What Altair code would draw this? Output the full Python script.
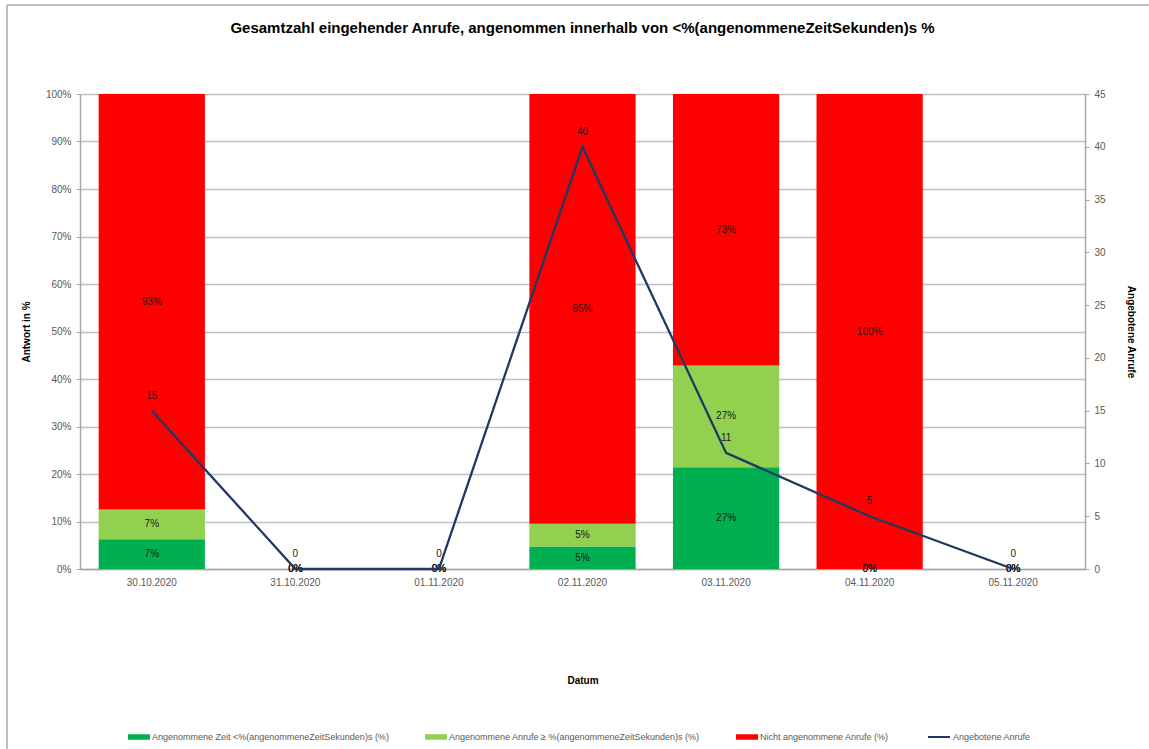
import altair as alt
import pandas as pd

# ---- data ----
dates = ["30.10.2020", "31.10.2020", "01.11.2020", "02.11.2020",
         "03.11.2020", "04.11.2020", "05.11.2020"]
series_names = [
    "Angenommene Zeit <%(angenommeneZeitSekunden)s (%)",
    "Angenommene Anrufe \u2265 %(angenommeneZeitSekunden)s (%)",
    "Nicht angenommene Anrufe (%)",
]
accepted_in_time = [6.67, 0, 0, 5, 27.27, 0, 0]
accepted_late = [6.67, 0, 0, 5, 27.27, 0, 0]
not_accepted = [93.33, 0, 0, 95, 72.73, 100, 0]
offered_calls = [15, 0, 0, 40, 11, 5, 0]
line_name = "Angebotene Anrufe"

bar_colors = ["#00B050", "#92D050", "#FF0000"]
line_color = "#1F3864"

FONT = "Liberation Sans, Arial, sans-serif"
GRAY = "#595959"

rows = []
for i, d in enumerate(dates):
    for k, (name, vals) in enumerate(zip(series_names, [accepted_in_time, accepted_late, not_accepted])):
        rows.append({"date": d, "series": name, "order": k, "value": vals[i]})
bar_df = pd.DataFrame(rows)
line_df = pd.DataFrame({"date": dates, "calls": offered_calls})

x_enc = alt.X(
    "date:N", sort=dates,
    scale=alt.Scale(paddingInner=0.26, paddingOuter=0.13),
    axis=alt.Axis(title="Datum", labelAngle=0, ticks=False, labelPadding=8,
                  titlePadding=88, labelFontSize=10, labelColor=GRAY,
                  titleFontSize=10, titleFontWeight="bold", titleColor="#000000",
                  domainColor="#A6A6A6", domainWidth=1.5, labelFont=FONT, titleFont=FONT),
)

stacked = (
    alt.Chart(bar_df)
    .transform_joinaggregate(total="sum(value)", groupby=["date"])
    .transform_calculate(frac="datum.total > 0 ? datum.value / datum.total : 0")
    .transform_stack(stack="frac", groupby=["date"], as_=["y0", "y1"],
                     sort=[alt.SortField("order", "ascending")])
)

bars = stacked.mark_bar().encode(
    x=x_enc,
    y=alt.Y("y0:Q", scale=alt.Scale(domain=[0, 1], nice=False),
            axis=alt.Axis(title="Antwort in %", format="%",
                          values=[i / 10 for i in range(11)],
                          grid=True, gridColor="#BFBFBF", gridWidth=1.3,
                          tickSize=4, tickColor="#A6A6A6", domainColor="#A6A6A6",
                          domainWidth=1.5, labelPadding=5, labelFontSize=10,
                          labelColor=GRAY, titlePadding=14, titleFontSize=10,
                          titleFontWeight="bold", titleColor="#000000",
                          labelFont=FONT, titleFont=FONT)),
    y2="y1:Q",
    color=alt.Color("series:N",
                    scale=alt.Scale(domain=series_names, range=bar_colors),
                    legend=alt.Legend(orient="none", legendX=48, legendY=632,
                                      direction="horizontal", title=None,
                                      symbolType="M-1,-0.25H1V0.25H-1Z",
                                      symbolSize=484, symbolStrokeWidth=0,
                                      labelFontSize=9, labelColor=GRAY,
                                      labelLimit=400, columnPadding=36,
                                      labelFont=FONT, labelOffset=2)),
)

bar_text = stacked.transform_calculate(
    mid="(datum.y0 + datum.y1) / 2", label="format(datum.value, '.0f') + '%'"
).mark_text(fontSize=10, color="#1A1A1A", font=FONT).encode(
    x=alt.X("date:N", sort=dates),
    y=alt.Y("mid:Q"),
    text="label:N",
)

left = alt.layer(bars, bar_text)

line = alt.Chart(line_df).transform_calculate(lg=f"'{line_name}'").mark_line(strokeWidth=2.3).encode(
    x=alt.X("date:N", sort=dates),
    y=alt.Y("calls:Q", scale=alt.Scale(domain=[0, 45], nice=False),
            axis=alt.Axis(orient="right", title=line_name, values=list(range(0, 46, 5)),
                          grid=False, tickSize=4, tickColor="#A6A6A6",
                          domainColor="#A6A6A6", domainWidth=1.5, labelPadding=5,
                          labelFontSize=10, labelColor=GRAY, titlePadding=20,
                          titleFontSize=10, titleFontWeight="bold", titleColor="#000000",
                          labelFont=FONT, titleFont=FONT)),
    stroke=alt.Stroke("lg:N", scale=alt.Scale(domain=[line_name], range=[line_color]),
                      legend=alt.Legend(orient="none", legendX=847, legendY=631,
                                        title=None, symbolType="stroke",
                                        symbolSize=484, symbolStrokeWidth=2,
                                        labelFontSize=9, labelColor=GRAY,
                                        labelFont=FONT, labelOffset=2)),
)

line_text = alt.Chart(line_df).mark_text(dy=-15, fontSize=10, color="#1A1A1A", font=FONT).encode(
    x=alt.X("date:N", sort=dates),
    y=alt.Y("calls:Q"),
    text="calls:Q",
)

right = alt.layer(line, line_text)

# chart-area frame (decoration only)
frame_src = pd.DataFrame({"k": [0]})
frame_top = alt.Chart(frame_src).mark_rule(color="#BDBDBD", strokeWidth=2).encode(
    x=alt.value(-73), x2=alt.value(1069), y=alt.value(-89))
frame_left = alt.Chart(frame_src).mark_rule(color="#BDBDBD", strokeWidth=2).encode(
    x=alt.value(-73), y=alt.value(-89), y2=alt.value(655))

chart = (
    alt.layer(left, right, frame_top, frame_left)
    .resolve_scale(y="independent", color="independent", stroke="independent")
    .properties(
        width=1005, height=475,
        autosize=alt.AutoSizeParams(type="none"),
        padding={"left": 80, "top": 94, "right": 64, "bottom": 180},
        title=alt.TitleParams(
            "Gesamtzahl eingehender Anrufe, angenommen innerhalb von <%(angenommeneZeitSekunden)s %",
            font=FONT, fontSize=15, fontWeight="bold", color="#000000",
            anchor="middle", offset=0, dy=32,
        ),
        background="white",
    )
    .configure_view(stroke=None)
)

chart.save("out.html", embed_options={"renderer": "svg", "actions": False})
